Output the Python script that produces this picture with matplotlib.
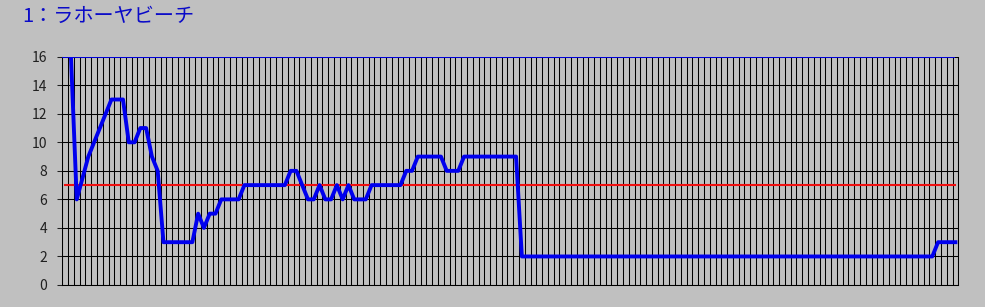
import numpy as np
import matplotlib
matplotlib.use("Agg")
import matplotlib.pyplot as plt

plt.rcParams['font.family'] = ['Noto Sans CJK JP', 'DejaVu Sans']

# データ
title = "1：ラホーヤビーチ"
nan = float('nan')
ranks = ([nan, 16, 6, 7.5, 9, 10, 11, 12, 13, 13, 13, 10, 10, 11, 11, 9, 8]
         + [3] * 6 + [5, 4, 5, 5] + [6] * 4 + [7] * 8 + [8, 8]
         + [7, 6, 6, 7, 6, 6, 7, 6, 7] + [6] * 3 + [7] * 6 + [8, 8]
         + [9] * 5 + [8] * 3 + [9] * 10 + [2] * 72 + [3] * 4)
avg_line = 7
top_line = 16
y_ticks = [0, 2, 4, 6, 8, 10, 12, 14, 16]

n = len(ranks)
x = np.arange(n) + 0.5

bg = '#C0C0C0'
fig = plt.figure(figsize=(9.85, 3.07), dpi=100, facecolor=bg)
ax = fig.add_axes([62.3 / 985, 22 / 307, 896 / 985, 228.3 / 307])
ax.set_facecolor(bg)

# 縦グリッド（カテゴリ区切り）
ax.set_xticks(np.arange(n + 1))
ax.set_yticks(y_ticks)
ax.grid(True, color='black', linewidth=0.75)
ax.set_axisbelow(True)
ax.tick_params(axis='x', length=0, labelbottom=False)
ax.tick_params(axis='y', length=3.3, width=0.75, pad=7.5, labelsize=10,
               colors='#202020')

ax.hlines(top_line, 0, x[-1], color='#0000EE', linewidth=1.3, zorder=3)
ax.plot(x, [avg_line] * n, color='#F01010', linewidth=1.5, zorder=3)
ax.plot(x, ranks, color='#0000EE', linewidth=2.8, zorder=4)

ax.set_xlim(0, n)
ax.set_ylim(0, 16)
for s in ax.spines.values():
    s.set_color('black')
    s.set_linewidth(0.75)
ax.spines['top'].set_visible(False)

fig.text(22 / 985, 1 - 16.5 / 307, title, color='#0A0AC8', fontsize=14.5,
         va='center', ha='left')

plt.savefig('out.png', dpi=100, facecolor=bg)
plt.close()
